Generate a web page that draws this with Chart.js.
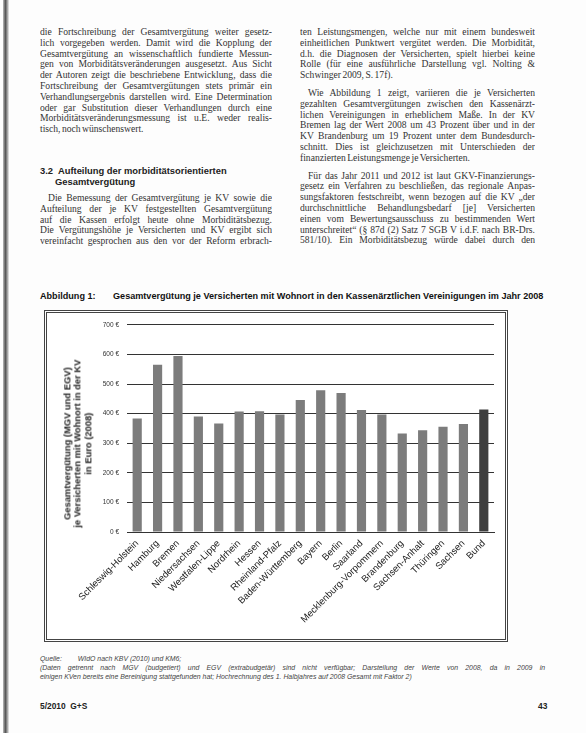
<!DOCTYPE html>
<html lang="de">
<head>
<meta charset="utf-8">
<title>Abbildung 1</title>
<script src="https://cdn.jsdelivr.net/npm/chart.js"></script>
<style>
  html, body { margin: 0; padding: 0; }
  body { width: 586px; height: 733px; position: relative; background: #fdfdfd; overflow: hidden; color: #222; }
  .edge { position: absolute; left: 3px; top: 0; width: 6px; height: 733px;
          background: linear-gradient(to right, #bbb, #555 40%, #999 70%, #eee); }
  .col { position: absolute; font-family: "Liberation Serif", "DejaVu Serif", serif; font-size: 9.6px; word-spacing: -1px; line-height: 10.8px; color: #333; }
  .col div { white-space: nowrap; height: 10.8px; }
  .col .j { text-align: justify; text-align-last: justify; white-space: normal; overflow: hidden; }
  .col .ind { text-indent: 8px; }
  .col .gap { height: 7px; }
  .head { position: absolute; left: 40px; top: 166px; font-family: "Liberation Sans", Arial, sans-serif; font-weight: bold; font-size: 9.4px; line-height: 10.6px; color: #222; }
  .caption { position: absolute; top: 291px; font-family: "Liberation Sans", Arial, sans-serif; font-weight: bold; font-size: 9.1px; color: #111; white-space: nowrap; }
  .box { position: absolute; left: 44px; top: 310px; width: 464px; height: 332px; box-sizing: border-box; border: 3px double #444; background: #fff; }
  .ytitle { position: absolute; left: -32px; top: 428px; width: 220px; text-align: center; transform: rotate(-90deg);
            font-family: "Liberation Sans", Arial, sans-serif; font-weight: bold; font-size: 9.4px; line-height: 10.4px; color: #222; white-space: nowrap; }
  .note { position: absolute; left: 40px; top: 655px; width: 505px; font-family: "Liberation Sans", Arial, sans-serif; font-style: italic; font-size: 6.9px; line-height: 8.8px; color: #444; }
  .note .j { text-align: justify; text-align-last: justify; }
  .foot { position: absolute; top: 701px; font-family: "Liberation Sans", Arial, sans-serif; font-weight: bold; font-size: 8.4px; color: #222; }
</style>
</head>
<body>
<div class="edge"></div>

<div class="col" style="left:40px; top:27px; width:232px;">
  <div class="j">die Fortschreibung der Gesamtvergütung weiter gesetz-</div>
  <div class="j">lich vorgegeben werden. Damit wird die Kopplung der</div>
  <div class="j">Gesamtvergütung an wissenschaftlich fundierte Messun-</div>
  <div class="j">gen von Morbiditätsveränderungen ausgesetzt. Aus Sicht</div>
  <div class="j">der Autoren zeigt die beschriebene Entwicklung, dass die</div>
  <div class="j">Fortschreibung der Gesamtvergütungen stets primär ein</div>
  <div class="j">Verhandlungsergebnis darstellen wird. Eine Determination</div>
  <div class="j">oder gar Substitution dieser Verhandlungen durch eine</div>
  <div class="j">Morbiditätsveränderungsmessung ist u.E. weder realis-</div>
  <div>tisch, noch wünschenswert.</div>
</div>

<div class="head">
  <div>3.2&nbsp; Aufteilung der morbiditätsorientierten</div>
  <div style="padding-left:15px;">Gesamtvergütung</div>
</div>

<div class="col" style="left:40px; top:193px; width:232px;">
  <div class="j ind">Die Bemessung der Gesamtvergütung je KV sowie die</div>
  <div class="j">Aufteilung der je KV festgestellten Gesamtvergütung</div>
  <div class="j">auf die Kassen erfolgt heute ohne Morbiditätsbezug.</div>
  <div class="j">Die Vergütungshöhe je Versicherten und KV ergibt sich</div>
  <div class="j">vereinfacht gesprochen aus den vor der Reform erbrach-</div>
</div>

<div class="col" style="left:300px; top:27px; width:235px;">
  <div class="j">ten Leistungsmengen, welche nur mit einem bundesweit</div>
  <div class="j">einheitlichen Punktwert vergütet werden. Die Morbidität,</div>
  <div class="j">d.h. die Diagnosen der Versicherten, spielt hierbei keine</div>
  <div class="j">Rolle (für eine ausführliche Darstellung vgl. Nolting &amp;</div>
  <div>Schwinger 2009, S. 17f).</div>
  <div class="gap"></div>
  <div class="j ind">Wie Abbildung 1 zeigt, variieren die je Versicherten</div>
  <div class="j">gezahlten Gesamtvergütungen zwischen den Kassenärzt-</div>
  <div class="j">lichen Vereinigungen in erheblichem Maße. In der KV</div>
  <div class="j">Bremen lag der Wert 2008 um 43 Prozent über und in der</div>
  <div class="j">KV Brandenburg um 19 Prozent unter dem Bundesdurch-</div>
  <div class="j">schnitt. Dies ist gleichzusetzen mit Unterschieden der</div>
  <div>finanzierten Leistungsmenge je Versicherten.</div>
  <div class="gap"></div>
  <div class="j ind">Für das Jahr 2011 und 2012 ist laut GKV-Finanzierungs-</div>
  <div class="j">gesetz ein Verfahren zu beschließen, das regionale Anpas-</div>
  <div class="j">sungsfaktoren festschreibt, wenn bezogen auf die KV „der</div>
  <div class="j">durchschnittliche Behandlungsbedarf [je] Versicherten</div>
  <div class="j">einen vom Bewertungsausschuss zu bestimmenden Wert</div>
  <div class="j">unterschreitet“ (§ 87d (2) Satz 7 SGB V i.d.F. nach BR-Drs.</div>
  <div class="j">581/10). Ein Morbiditätsbezug würde dabei durch den</div>
</div>

<div class="caption" style="left:40px;">Abbildung 1:</div>
<div class="caption" style="left:113px;">Gesamtvergütung je Versicherten mit Wohnort in den Kassenärztlichen Vereinigungen im Jahr 2008</div>

<div class="box">
  <canvas id="kvChart" width="458" height="326"></canvas>
</div>
<div class="ytitle">
  <div>Gesamtvergütung (MGV und EGV)</div>
  <div>je Versicherten mit Wohnort in der KV</div>
  <div>in Euro (2008)</div>
</div>

<div class="note">
  <div>Quelle:<span style="display:inline-block;width:16px;"></span>WIdO nach KBV (2010) und KM6;</div>
  <div class="j">(Daten getrennt nach MGV (budgetiert) und EGV (extrabudgetär) sind nicht verfügbar; Darstellung der Werte von 2008, da in 2009 in</div>
  <div>einigen KVen bereits eine Bereinigung stattgefunden hat; Hochrechnung des 1. Halbjahres auf 2008 Gesamt mit Faktor 2)</div>
</div>

<div class="foot" style="left:40px;">5/2010&nbsp; G+S</div>
<div class="foot" style="left:538px;">43</div>

<script>
// Kassenärztliche Vereinigungen, Gesamtvergütung je Versicherten 2008 (Euro)
const regions = [
    'Schleswig-Holstein', 'Hamburg', 'Bremen', 'Niedersachsen', 'Westfalen-Lippe',
    'Nordrhein', 'Hessen', 'Rheinland-Pfalz', 'Baden-Württemberg', 'Bayern',
    'Berlin', 'Saarland', 'Mecklenburg-Vorpommern', 'Brandenburg', 'Sachsen-Anhalt',
    'Thüringen', 'Sachsen', 'Bund'
];
const values = [384, 565, 595, 390, 367, 407, 408, 397, 446, 479, 470, 412, 397, 333, 344, 356, 365, 414];
const yMax = 700;
const yStep = 100;

function createKvChart() {
    const canvas = document.getElementById('kvChart');
    const ctx = canvas.getContext('2d');
    const barColors = regions.map(r => r === 'Bund' ? '#3e3e3e' : '#7c7c7c');

    new Chart(ctx, {
        type: 'bar',
        data: {
            labels: regions,
            datasets: [{
                data: values,
                backgroundColor: barColors,
                borderWidth: 0,
                barPercentage: 0.45,
                categoryPercentage: 1
            }]
        },
        options: {
            responsive: false,
            animation: false,
            layout: {
                padding: { top: 10, right: 11, left: 0, bottom: 0 }
            },
            plugins: {
                legend: { display: false },
                tooltip: { enabled: false }
            },
            scales: {
                x: {
                    grid: { display: false, drawTicks: false },
                    border: { display: true, color: '#333', width: 1 },
                    ticks: {
                        autoSkip: false,
                        minRotation: 45,
                        maxRotation: 45,
                        padding: 6,
                        color: '#222',
                        font: { family: 'Liberation Sans', size: 9.5 }
                    },
                    afterFit: s => { s.height = 107; }
                },
                y: {
                    min: 0,
                    max: yMax,
                    grid: { color: '#333', lineWidth: 1, drawTicks: false },
                    border: { display: false },
                    ticks: {
                        stepSize: yStep,
                        padding: 8,
                        color: '#333',
                        font: { family: 'Liberation Sans', size: 6.5 },
                        callback: v => v + ' €'
                    },
                    afterFit: s => { s.width = 80; }
                }
            }
        }
    });
}

createKvChart();
</script>
</body>
</html>
